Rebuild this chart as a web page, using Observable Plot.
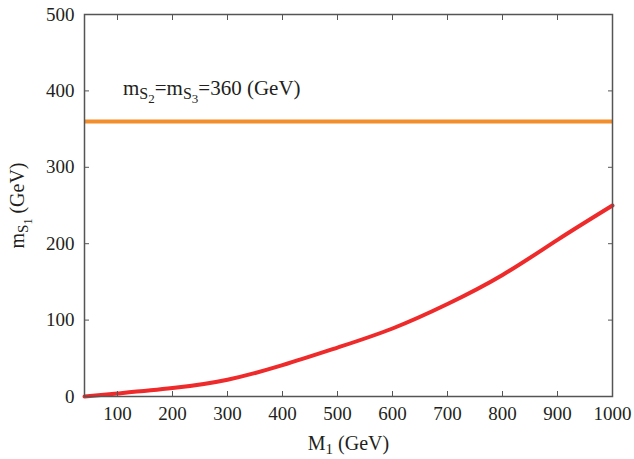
<!DOCTYPE html>
<html><head><meta charset="utf-8">
<script src="https://cdn.jsdelivr.net/npm/d3@7"></script>
<script src="https://cdn.jsdelivr.net/npm/@observablehq/plot@0.6"></script>
<style>html,body{margin:0;padding:0;background:#fff;} svg text{font-family:'Liberation Serif','DejaVu Serif',serif;}</style>
</head><body><div id="chart"></div>
<script>
const m1Values = [40, 100, 200, 300, 400, 500, 600, 700, 800, 900, 1000];
const mS1Values = [0, 4, 11, 22, 41, 64, 89, 121, 159, 205, 250];
const mS2Value = 360;
const xTicks = [100, 200, 300, 400, 500, 600, 700, 800, 900, 1000];
const yTicks = [0, 100, 200, 300, 400, 500];
const annotX = 110, annotY = 403;

const curve = m1Values.map((x, i) => ({x, y: mS1Values[i]}));
const ink = "#231f20";
const serif = "'Liberation Serif', 'DejaVu Serif', serif";

const chart = Plot.plot({
  width: 634, height: 459,
  marginLeft: 84, marginRight: 22, marginTop: 14, marginBottom: 63,
  x: {domain: [40, 1000]},
  y: {domain: [0, 500]},
  style: {fontFamily: serif, fontSize: "19px", color: ink, background: "white"},
  marks: [
    Plot.ruleY([mS2Value], {stroke: "#f28e2b", strokeWidth: 4}),
    Plot.line(curve, {x: "x", y: "y", stroke: "#ee2a2b", strokeWidth: 4, curve: "natural"}),
    Plot.frame({stroke: "#555", strokeWidth: 1.5}),
    Plot.axisX(xTicks, {anchor: "bottom", tickSize: -5, tickPadding: 15, tickFormat: d => String(d), label: null, stroke: "#555", fill: ink, fontSize: 19}),
    Plot.axisX(xTicks, {anchor: "top", tickSize: -5, text: null, label: null, stroke: "#555"}),
    Plot.axisY(yTicks, {anchor: "left", tickSize: -5, tickPadding: 15, tickFormat: d => String(d), label: null, stroke: "#555", fill: ink, fontSize: 19}),
    Plot.axisY(yTicks, {anchor: "right", tickSize: -5, text: null, label: null, stroke: "#555"}),
    Plot.text(["M1 (GeV)"], {frameAnchor: "bottom", dy: 47, textAnchor: "middle", lineAnchor: "middle", text: d => d, fill: ink, fontSize: 20, ariaDescription: "xlabel"}),
    Plot.text(["mS1 (GeV)"], {frameAnchor: "left", dx: -67, dy: 0, rotate: -90, textAnchor: "middle", lineAnchor: "middle", text: d => d, fill: ink, fontSize: 20, ariaDescription: "ylabel"}),
    Plot.text([{x: annotX, y: annotY}], {x: "x", y: "y", text: () => "mS2=mS3=360 (GeV)", textAnchor: "start", lineAnchor: "middle", fill: ink, fontSize: 21, ariaDescription: "annot"})
  ]
});
document.getElementById("chart").appendChild(chart);

function rich(desc, sizes, offs, parts) {
  const t = d3.select(chart).selectAll("g").filter(function() { return this.getAttribute("aria-description") === desc; }).select("text");
  t.text(null);
  let prev = 0;
  for (const [s, lvl] of parts) {
    t.append("tspan").attr("dy", offs[lvl] - offs[prev]).attr("font-size", sizes[lvl]).text(s);
    prev = lvl;
  }
}
rich("xlabel", [20, 15], [0, 4], [["M", 0], ["1", 1], [" (GeV)", 0]]);
rich("ylabel", [20, 15, 12], [0, 4, 8], [["m", 0], ["S", 1], ["1", 2], [" (GeV)", 0]]);
rich("annot", [21, 16, 13], [0, 4, 8], [["m", 0], ["S", 1], ["2", 2], ["=m", 0], ["S", 1], ["3", 2], ["=360 (GeV)", 0]]);
</script></body></html>
